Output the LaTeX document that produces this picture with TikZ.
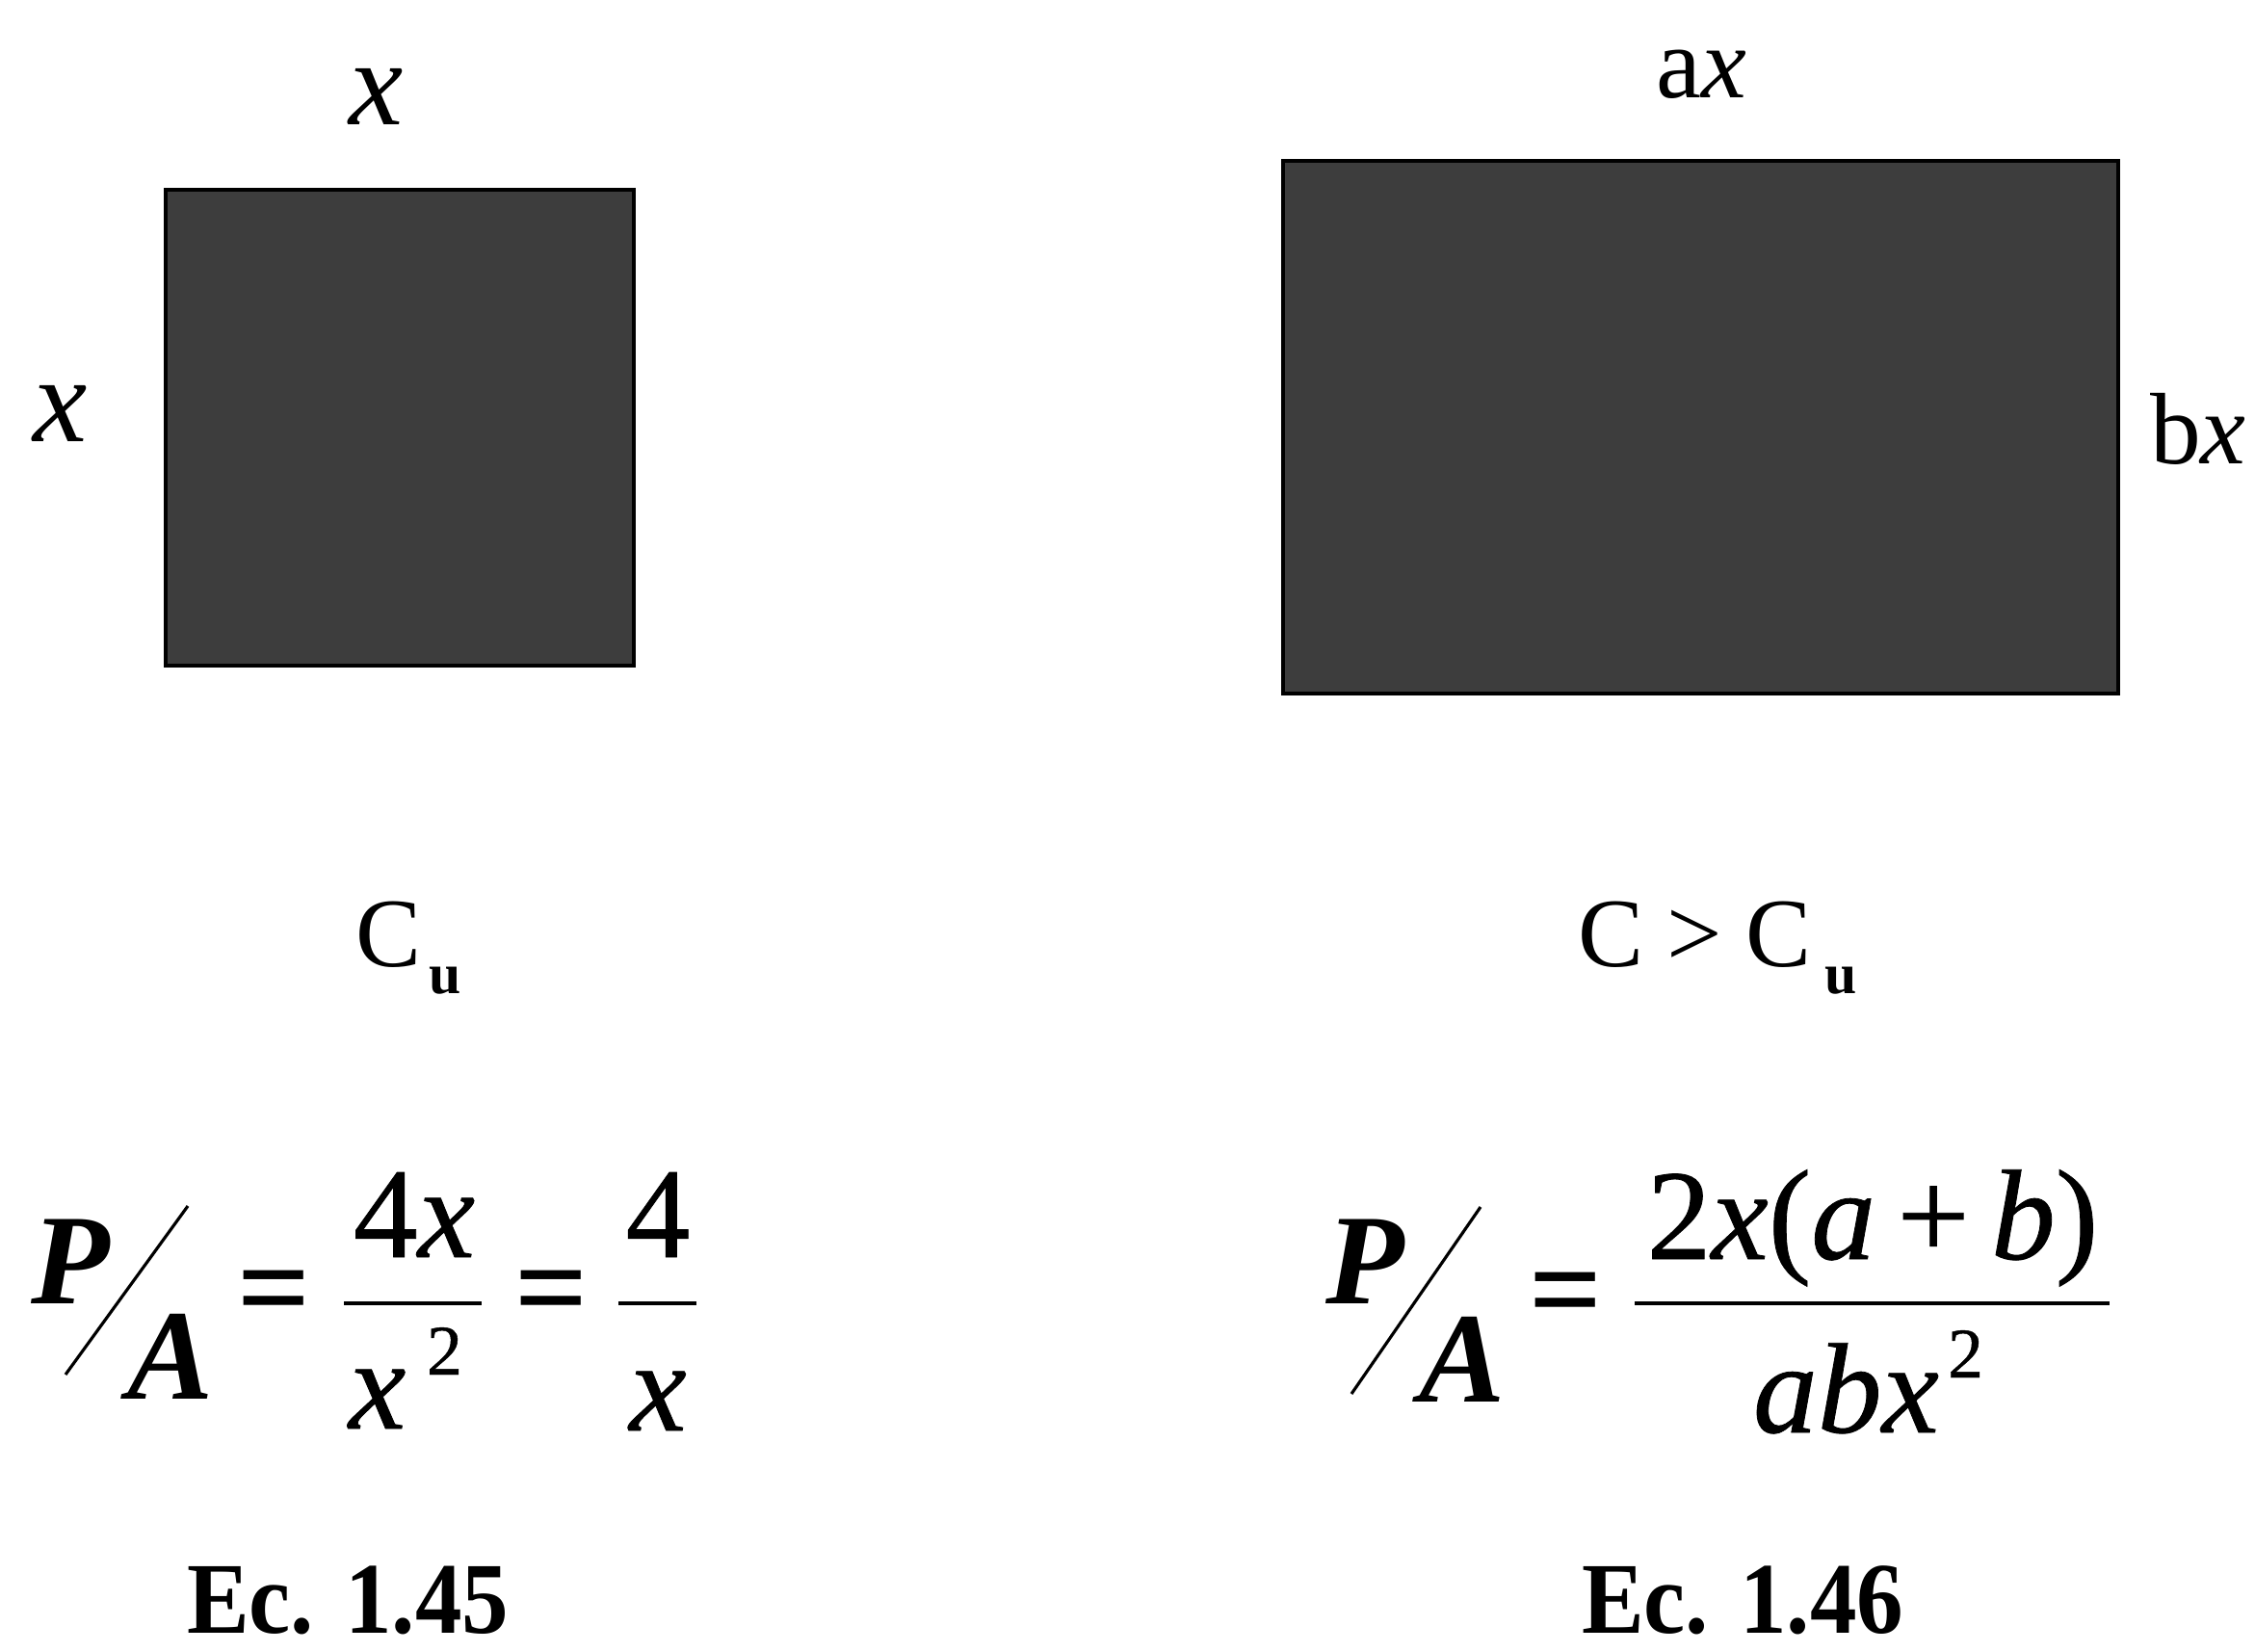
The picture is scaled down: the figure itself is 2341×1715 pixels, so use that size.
\documentclass[tikz,border=0pt]{standalone}
\usepackage{fontspec}
\setmainfont{Liberation Serif}
\newfontfamily\eqfont[FakeBold=0.6]{Liberation Serif}
\newfontfamily\ecfont[FakeStretch=0.92]{Liberation Serif}
\newcommand\fsz[1]{\fontsize{#1}{#1}\selectfont}
\begin{document}
\begin{tikzpicture}[x=0.01cm,y=-0.01cm,
  txt/.style={inner sep=0pt, outer sep=0pt},
  sidelbl/.style={txt, font=\fsz{30pt}},
  sidexlbl/.style={txt, font=\fsz{36pt}\itshape},
  captxt/.style={txt, font=\fsz{29pt}},
  eqntxt/.style={txt, font=\eqfont\fsz{38pt}},
  eqsign/.style={txt, font=\fsz{38pt}\bfseries},
  eqpatxt/.style={txt, font=\fsz{38pt}\bfseries\itshape},
  suptxt/.style={txt, font=\eqfont\fsz{21pt}},
  ectxt/.style={txt, font=\ecfont\fsz{30pt}\bfseries},
  shapebox/.style={draw=black, line width=1.4pt, fill=black!76},
  fracbar/.style={line width=0.9pt},
  slashln/.style={line width=0.9pt}]
\useasboundingbox (0,0) rectangle (2341,1715);

% shapes
\draw[shapebox] (172,197) rectangle (658,691);
\draw[shapebox] (1332,167) rectangle (2199,720);

% side labels
\node[sidexlbl, anchor=base] (xtop) at (391,129) {x};
\node[sidexlbl, anchor=base] (xleft) at (63,458) {x};
\node[sidelbl, anchor=base] (ax) at (1766,101) {a\textit{x}};
\node[sidelbl, anchor=base] (bx) at (2282,481) {b\textit{x}};

% captions
\node[captxt, anchor=base west] (cu) at (369,1003) {C\kern0.08em\raisebox{-0.28em}{\fsz{17pt}\bfseries u}};
\node[captxt, anchor=base west] (cgt) at (1638,1003) {C\hspace{0.24em}>\hspace{0.24em}C\kern0.14em\raisebox{-0.28em}{\fsz{17pt}\bfseries u}};

% equation 1
\node[eqpatxt, anchor=base west] (p1) at (32,1353) {P};
\node[eqpatxt, anchor=base west] (a1) at (132,1452) {A};
\coordinate (s1a) at (68,1427);
\coordinate (s1b) at (195,1252);
\draw[slashln] (s1a) -- (s1b);
\node[eqsign] (eq1a) at (285,1350) {=};
\node[eqntxt, anchor=base] (n1) at (430,1305) {4\textit{x}};
\coordinate (b1l) at (357,1353);
\coordinate (b1r) at (500,1353);
\draw[fracbar] (b1l) -- (b1r);
\node[eqntxt, anchor=base west] (d1) at (362,1483) {\textit{x}};
\node[suptxt, anchor=base west] (d1s) at (443,1427) {2};
\node[eqsign] (eq1b) at (573,1350) {=};
\node[eqntxt, anchor=base] (n2) at (683,1305) {4};
\coordinate (b2l) at (642,1353);
\coordinate (b2r) at (723,1353);
\draw[fracbar] (b2l) -- (b2r);
\node[eqntxt, anchor=base] (d2) at (683,1485) {\textit{x}};

% equation 2
\node[eqpatxt, anchor=base west] (p2) at (1376,1353) {P};
\node[eqpatxt, anchor=base west] (a2) at (1473,1455) {A};
\coordinate (s2a) at (1403,1447);
\coordinate (s2b) at (1537,1253);
\draw[slashln] (s2a) -- (s2b);
\node[eqsign] (eq2) at (1626,1352) {=};
\node[eqntxt, anchor=base] (n3) at (1944,1307) {2\textit{x}(\textit{a}\,+\,\textit{b})};
\coordinate (b3l) at (1697,1353);
\coordinate (b3r) at (2190,1353);
\draw[fracbar] (b3l) -- (b3r);
\node[eqntxt, anchor=base west] (d3) at (1820,1487) {\textit{abx}};
\node[suptxt, anchor=base west] (d3s) at (2022,1430) {2};

% equation numbers
\node[ectxt, anchor=base west] (ec45) at (194,1695) {Ec. 1.45};
\node[ectxt, anchor=base west] (ec46) at (1642,1695) {Ec. 1.46};
\end{tikzpicture}
\end{document}
